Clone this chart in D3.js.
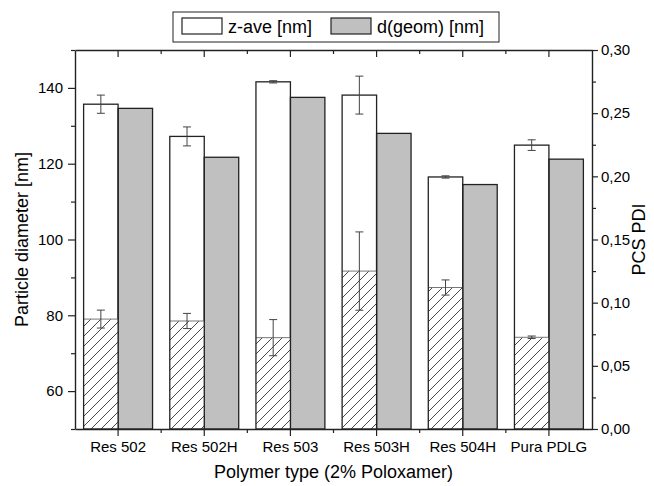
<!DOCTYPE html>
<html>
<head>
<meta charset="utf-8">
<script src="https://cdn.jsdelivr.net/npm/d3@7"></script>
<style>
  body { margin: 0; background: #fff; }
  svg { display: block; font-family: 'Liberation Sans', Arial, sans-serif; }
</style>
</head>
<body>
<svg id="chart" width="654" height="486"></svg>
<script>
// data
const categories = ['Res 502', 'Res 502H', 'Res 503', 'Res 503H', 'Res 504H', 'Pura PDLG'];
const zAve = [135.7, 127.2, 141.6, 138.1, 116.5, 124.9];
const zAveErr = [2.4, 2.5, 0.3, 5.0, 0.3, 1.4];
const dGeom = [134.6, 121.7, 137.5, 128.0, 114.5, 121.2];
const pdi = [0.087, 0.0855, 0.0723, 0.125, 0.112, 0.0726];
const pdiErr = [0.0071, 0.006, 0.0143, 0.031, 0.006, 0.001];

const leftTicks = [60, 80, 100, 120, 140];
const leftMinor = [50, 70, 90, 110, 130, 150];
const rightTicks = [0, 0.05, 0.1, 0.15, 0.2, 0.25, 0.3];
const rightMinor = [0.025, 0.075, 0.125, 0.175, 0.225, 0.275];

const rows = categories.map((c, i) => ({
  cat: c, z: zAve[i], zErr: zAveErr[i], g: dGeom[i], p: pdi[i], pErr: pdiErr[i]
}));

const svg = d3.select('#chart');
const m = { left: 75, right: 592, top: 50, bottom: 429 };
const ink = '#222';

const x = d3.scaleBand().domain(categories).range([m.left, m.right]).padding(0);
const xs = d3.scaleBand().domain(['z', 'g']).range([0, x.bandwidth()]).paddingOuter(0.25);
const yL = d3.scaleLinear().domain([50, 150]).range([m.bottom, m.top]);
const yR = d3.scaleLinear().domain([0, 0.3]).range([m.bottom, m.top]);

// hatch pattern for PDI
const defs = svg.append('defs');
defs.append('pattern')
  .attr('id', 'hatch')
  .attr('patternUnits', 'userSpaceOnUse')
  .attr('width', 10)
  .attr('height', 10)
  .call(p => {
    p.append('rect').attr('width', 10).attr('height', 10).attr('fill', '#fff');
    p.append('path')
      .attr('d', 'M0,10 L10,0 M-2,2 L2,-2 M8,12 L12,8')
      .attr('stroke', '#333')
      .attr('stroke-width', 0.9);
  });

const bars = svg.append('g');

// z-ave white bars
bars.selectAll('.zbar')
  .data(rows)
  .enter()
  .append('rect')
  .attr('x', d => x(d.cat) + xs('z'))
  .attr('y', d => yL(d.z))
  .attr('width', xs.bandwidth())
  .attr('height', d => m.bottom - yL(d.z))
  .attr('fill', '#fff');

// d(geom) gray bars
bars.selectAll('.gbar')
  .data(rows)
  .enter()
  .append('rect')
  .attr('x', d => x(d.cat) + xs('g'))
  .attr('y', d => yL(d.g))
  .attr('width', xs.bandwidth())
  .attr('height', d => m.bottom - yL(d.g))
  .attr('fill', '#c0c0c0')
  .attr('stroke', ink)
  .attr('stroke-width', 1.3);

// PDI hatched bars, on the right axis
bars.selectAll('.pbar')
  .data(rows)
  .enter()
  .append('rect')
  .attr('x', d => x(d.cat) + xs('z'))
  .attr('y', d => yR(d.p))
  .attr('width', xs.bandwidth())
  .attr('height', d => m.bottom - yR(d.p))
  .attr('fill', 'url(#hatch)');

bars.selectAll('.ptop')
  .data(rows)
  .enter()
  .append('line')
  .attr('x1', d => x(d.cat) + xs('z'))
  .attr('x2', d => x(d.cat) + xs('z') + xs.bandwidth())
  .attr('y1', d => yR(d.p))
  .attr('y2', d => yR(d.p))
  .attr('stroke', '#777')
  .attr('stroke-width', 1);

// outline of the white bars on top
bars.selectAll('.zout')
  .data(rows)
  .enter()
  .append('rect')
  .attr('x', d => x(d.cat) + xs('z'))
  .attr('y', d => yL(d.z))
  .attr('width', xs.bandwidth())
  .attr('height', d => m.bottom - yL(d.z))
  .attr('fill', 'none')
  .attr('stroke', ink)
  .attr('stroke-width', 1.3);

// error bars
const errBar = (g, cx, y0, y1) => {
  const cap = 4;
  g.append('line').attr('x1', cx).attr('x2', cx).attr('y1', y0).attr('y2', y1);
  g.append('line').attr('x1', cx - cap).attr('x2', cx + cap).attr('y1', y0).attr('y2', y0);
  g.append('line').attr('x1', cx - cap).attr('x2', cx + cap).attr('y1', y1).attr('y2', y1);
};
const errs = svg.append('g').attr('stroke', '#444').attr('stroke-width', 1);
rows.forEach(d => {
  const cx = x(d.cat) + xs('z') + xs.bandwidth() / 2;
  errBar(errs, cx, yL(d.z + d.zErr), yL(d.z - d.zErr));
  errBar(errs, cx, yR(d.p + d.pErr), yR(d.p - d.pErr));
});

// axes
const styleAxis = g => {
  g.selectAll('path').attr('stroke', ink).attr('stroke-width', 1.4);
  g.selectAll('line').attr('stroke', ink).attr('stroke-width', 1.2);
  g.selectAll('text').attr('fill', '#000').style('font-size', '15px')
    .style('font-family', "'Liberation Sans', Arial, sans-serif");
};

const minorX = categories.slice(1).map(c => x(c));

// bottom
svg.append('g')
  .attr('transform', `translate(0,${m.bottom})`)
  .call(d3.axisBottom(x).tickSize(7).tickSizeOuter(0).tickPadding(5))
  .call(styleAxis);
svg.append('g')
  .selectAll('line')
  .data(minorX)
  .enter()
  .append('line')
  .attr('x1', d => d).attr('x2', d => d)
  .attr('y1', m.bottom).attr('y2', m.bottom + 4)
  .attr('stroke', ink).attr('stroke-width', 1.2);

// top
svg.append('g')
  .attr('transform', `translate(0,${m.top})`)
  .call(d3.axisTop(x).tickSizeInner(-7).tickSizeOuter(0).tickFormat(''))
  .call(styleAxis);
svg.append('g')
  .selectAll('line')
  .data(minorX)
  .enter()
  .append('line')
  .attr('x1', d => d).attr('x2', d => d)
  .attr('y1', m.top).attr('y2', m.top + 4)
  .attr('stroke', ink).attr('stroke-width', 1.2);

// left
svg.append('g')
  .attr('transform', `translate(${m.left},0)`)
  .call(d3.axisLeft(yL).tickValues(leftTicks).tickSize(7).tickSizeOuter(0).tickPadding(5))
  .call(styleAxis);
svg.append('g')
  .attr('transform', `translate(${m.left},0)`)
  .call(d3.axisLeft(yL).tickValues(leftMinor).tickSize(4).tickFormat(''))
  .call(g => g.select('.domain').remove())
  .call(styleAxis);

// right
const comma = d => d3.format('.2f')(d).replace('.', ',');
svg.append('g')
  .attr('transform', `translate(${m.right},0)`)
  .call(d3.axisRight(yR).tickValues(rightTicks).tickSize(6).tickSizeOuter(0).tickPadding(3).tickFormat(comma))
  .call(styleAxis);
svg.append('g')
  .attr('transform', `translate(${m.right},0)`)
  .call(d3.axisRight(yR).tickValues(rightMinor).tickSize(4).tickFormat(''))
  .call(g => g.select('.domain').remove())
  .call(styleAxis);

// titles
svg.append('text')
  .attr('x', (m.left + m.right) / 2)
  .attr('y', 478)
  .attr('text-anchor', 'middle')
  .style('font-size', '18px')
  .text('Polymer type (2% Poloxamer)');

svg.append('text')
  .attr('transform', `translate(28,${(m.top + m.bottom) / 2}) rotate(-90)`)
  .attr('text-anchor', 'middle')
  .style('font-size', '18px')
  .text('Particle diameter [nm]');

svg.append('text')
  .attr('transform', `translate(645,${(m.top + m.bottom) / 2}) rotate(-90)`)
  .attr('text-anchor', 'middle')
  .style('font-size', '18px')
  .text('PCS PDI');

// legend
const legend = svg.append('g');
legend.append('rect')
  .attr('x', 173).attr('y', 12).attr('width', 326).attr('height', 30)
  .attr('fill', '#fff').attr('stroke', ink).attr('stroke-width', 1);
const items = [
  { label: 'z-ave [nm]', fill: '#fff', x: 182 },
  { label: 'd(geom) [nm]', fill: '#c0c0c0', x: 331 }
];
items.forEach(it => {
  legend.append('rect')
    .attr('x', it.x).attr('y', 18).attr('width', 40).attr('height', 16)
    .attr('fill', it.fill).attr('stroke', ink).attr('stroke-width', 1.2);
  legend.append('text')
    .attr('x', it.x + 46).attr('y', 33)
    .style('font-size', '18px')
    .text(it.label);
});
</script>
</body>
</html>
